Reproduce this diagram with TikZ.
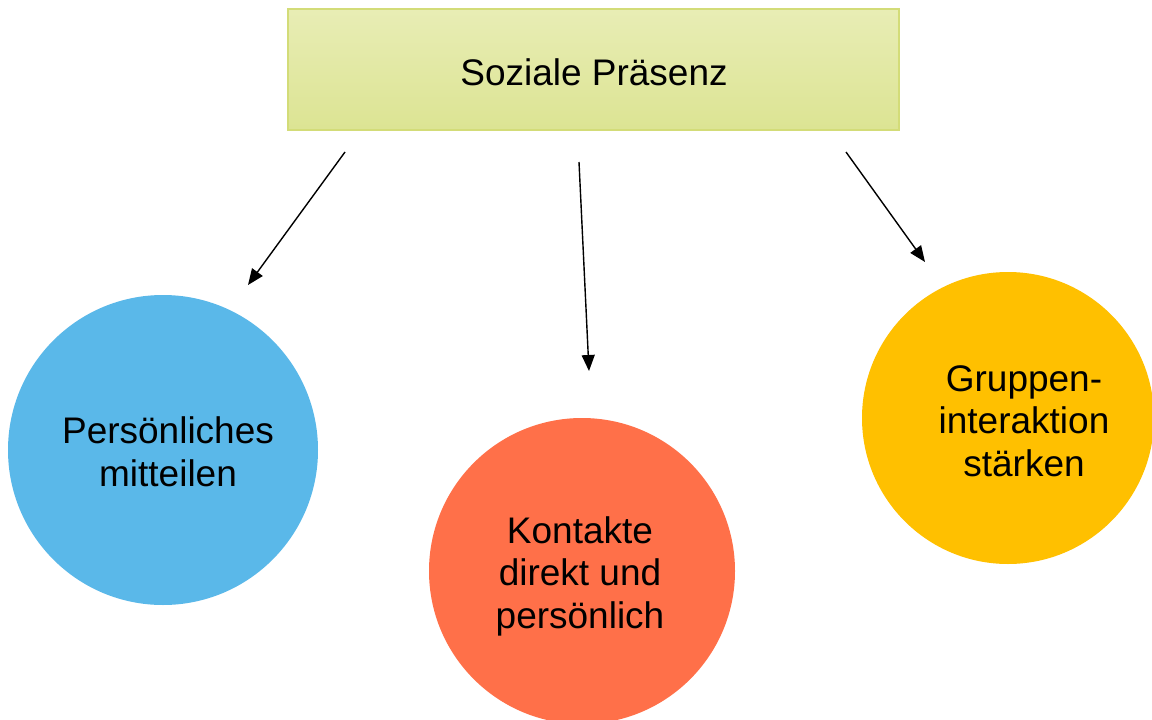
\documentclass[tikz,border=0pt]{standalone}
\usepackage{fontspec}
\setmainfont{Liberation Sans}
\usetikzlibrary{arrows.meta}
\definecolor{boxtop}{HTML}{E8EDB5}
\definecolor{boxbot}{HTML}{DCE493}
\definecolor{boxline}{HTML}{D3DC78}
\definecolor{cblue}{HTML}{5AB8E9}
\definecolor{corange}{HTML}{FF7049}
\definecolor{cyellow}{HTML}{FFC000}
\tikzset{
  lbl/.style={font=\fontsize{37}{42.5}\selectfont, align=center, text=black},
  bubble/.style={circle, inner sep=0pt},
  conn/.style={line width=1.4pt, -{Triangle[length=16pt,width=13pt]}},
}
\begin{document}
\begin{tikzpicture}[x=1pt,y=-1pt]
\useasboundingbox (0,0) rectangle (1152,720);
\fill[white] (0,0) rectangle (1152,720);
% top box
\node (top) [draw=boxline, line width=1.2pt, top color=boxtop, bottom color=boxbot,
  minimum width=611pt, minimum height=121pt, inner sep=0pt] at (593.5,69.5) {};
\node (toplbl) [lbl] at (594,72) {Soziale Präsenz};
% circles
\node (c1) [bubble, fill=cblue, minimum size=310pt] at (163,450) {};
\node (c2) [bubble, fill=corange, minimum size=306pt] at (582,571) {};
\node (c3) [bubble, fill=cyellow, minimum size=292pt] at (1008,418) {};
\node (t1) [lbl] at (168,452) {Persönliches\\mitteilen};
\node (t2) [lbl] at (580,576) {Kontakte\\direkt und\\persönlich};
\node (t3) [lbl] at (1024,421) {Gruppen-\\interaktion\\stärken};
% arrow endpoints
\coordinate (a1s) at (345,152);
\coordinate (a1e) at (248,285);
\coordinate (a2s) at (579,162);
\coordinate (a2e) at (589,371);
\coordinate (a3s) at (846,152);
\coordinate (a3e) at (925,262);
\draw[conn] (a1s) -- (a1e);
\draw[conn] (a2s) -- (a2e);
\draw[conn] (a3s) -- (a3e);
\end{tikzpicture}
\end{document}
